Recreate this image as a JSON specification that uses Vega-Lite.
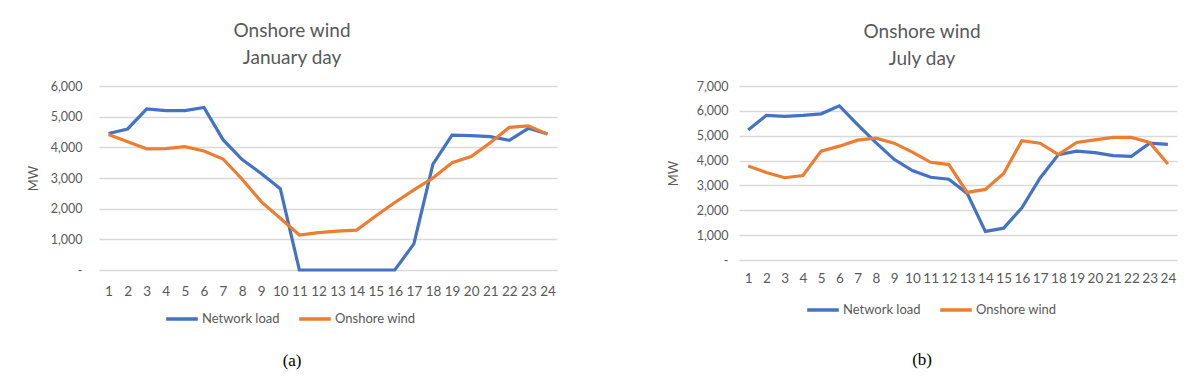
{
  "$schema": "https://vega.github.io/schema/vega-lite/v6.json",
  "background": "white",
  "padding": {"left": 27, "top": 22, "right": 5, "bottom": 5},
  "datasets": {
    "jan": [
      {"hour": 1, "series": "Network load", "MW": 4450},
      {"hour": 2, "series": "Network load", "MW": 4600},
      {"hour": 3, "series": "Network load", "MW": 5250},
      {"hour": 4, "series": "Network load", "MW": 5200},
      {"hour": 5, "series": "Network load", "MW": 5200},
      {"hour": 6, "series": "Network load", "MW": 5300},
      {"hour": 7, "series": "Network load", "MW": 4250},
      {"hour": 8, "series": "Network load", "MW": 3600},
      {"hour": 9, "series": "Network load", "MW": 3150},
      {"hour": 10, "series": "Network load", "MW": 2650},
      {"hour": 11, "series": "Network load", "MW": 0},
      {"hour": 12, "series": "Network load", "MW": 0},
      {"hour": 13, "series": "Network load", "MW": 0},
      {"hour": 14, "series": "Network load", "MW": 0},
      {"hour": 15, "series": "Network load", "MW": 0},
      {"hour": 16, "series": "Network load", "MW": 0},
      {"hour": 17, "series": "Network load", "MW": 850},
      {"hour": 18, "series": "Network load", "MW": 3450},
      {"hour": 19, "series": "Network load", "MW": 4400},
      {"hour": 20, "series": "Network load", "MW": 4380},
      {"hour": 21, "series": "Network load", "MW": 4350},
      {"hour": 22, "series": "Network load", "MW": 4230},
      {"hour": 23, "series": "Network load", "MW": 4620},
      {"hour": 24, "series": "Network load", "MW": 4440},
      {"hour": 1, "series": "Onshore wind", "MW": 4420},
      {"hour": 2, "series": "Onshore wind", "MW": 4180},
      {"hour": 3, "series": "Onshore wind", "MW": 3950},
      {"hour": 4, "series": "Onshore wind", "MW": 3955},
      {"hour": 5, "series": "Onshore wind", "MW": 4020},
      {"hour": 6, "series": "Onshore wind", "MW": 3880},
      {"hour": 7, "series": "Onshore wind", "MW": 3620},
      {"hour": 8, "series": "Onshore wind", "MW": 2960},
      {"hour": 9, "series": "Onshore wind", "MW": 2230},
      {"hour": 10, "series": "Onshore wind", "MW": 1690},
      {"hour": 11, "series": "Onshore wind", "MW": 1140},
      {"hour": 12, "series": "Onshore wind", "MW": 1220},
      {"hour": 13, "series": "Onshore wind", "MW": 1270},
      {"hour": 14, "series": "Onshore wind", "MW": 1300},
      {"hour": 15, "series": "Onshore wind", "MW": 1760},
      {"hour": 16, "series": "Onshore wind", "MW": 2200},
      {"hour": 17, "series": "Onshore wind", "MW": 2610},
      {"hour": 18, "series": "Onshore wind", "MW": 3000},
      {"hour": 19, "series": "Onshore wind", "MW": 3500},
      {"hour": 20, "series": "Onshore wind", "MW": 3700},
      {"hour": 21, "series": "Onshore wind", "MW": 4150},
      {"hour": 22, "series": "Onshore wind", "MW": 4650},
      {"hour": 23, "series": "Onshore wind", "MW": 4700},
      {"hour": 24, "series": "Onshore wind", "MW": 4430}
    ],
    "jul": [
      {"hour": 1, "series": "Network load", "MW": 5230},
      {"hour": 2, "series": "Network load", "MW": 5820},
      {"hour": 3, "series": "Network load", "MW": 5780},
      {"hour": 4, "series": "Network load", "MW": 5820},
      {"hour": 5, "series": "Network load", "MW": 5880},
      {"hour": 6, "series": "Network load", "MW": 6200},
      {"hour": 7, "series": "Network load", "MW": 5450},
      {"hour": 8, "series": "Network load", "MW": 4720},
      {"hour": 9, "series": "Network load", "MW": 4050},
      {"hour": 10, "series": "Network load", "MW": 3600},
      {"hour": 11, "series": "Network load", "MW": 3330},
      {"hour": 12, "series": "Network load", "MW": 3250},
      {"hour": 13, "series": "Network load", "MW": 2680},
      {"hour": 14, "series": "Network load", "MW": 1150},
      {"hour": 15, "series": "Network load", "MW": 1280},
      {"hour": 16, "series": "Network load", "MW": 2100},
      {"hour": 17, "series": "Network load", "MW": 3300},
      {"hour": 18, "series": "Network load", "MW": 4240},
      {"hour": 19, "series": "Network load", "MW": 4380},
      {"hour": 20, "series": "Network load", "MW": 4320},
      {"hour": 21, "series": "Network load", "MW": 4200},
      {"hour": 22, "series": "Network load", "MW": 4170},
      {"hour": 23, "series": "Network load", "MW": 4700},
      {"hour": 24, "series": "Network load", "MW": 4650},
      {"hour": 1, "series": "Onshore wind", "MW": 3780},
      {"hour": 2, "series": "Onshore wind", "MW": 3520},
      {"hour": 3, "series": "Onshore wind", "MW": 3310},
      {"hour": 4, "series": "Onshore wind", "MW": 3400},
      {"hour": 5, "series": "Onshore wind", "MW": 4380},
      {"hour": 6, "series": "Onshore wind", "MW": 4580},
      {"hour": 7, "series": "Onshore wind", "MW": 4820},
      {"hour": 8, "series": "Onshore wind", "MW": 4900},
      {"hour": 9, "series": "Onshore wind", "MW": 4700},
      {"hour": 10, "series": "Onshore wind", "MW": 4340},
      {"hour": 11, "series": "Onshore wind", "MW": 3930},
      {"hour": 12, "series": "Onshore wind", "MW": 3840},
      {"hour": 13, "series": "Onshore wind", "MW": 2720},
      {"hour": 14, "series": "Onshore wind", "MW": 2840},
      {"hour": 15, "series": "Onshore wind", "MW": 3480},
      {"hour": 16, "series": "Onshore wind", "MW": 4800},
      {"hour": 17, "series": "Onshore wind", "MW": 4700},
      {"hour": 18, "series": "Onshore wind", "MW": 4240},
      {"hour": 19, "series": "Onshore wind", "MW": 4730},
      {"hour": 20, "series": "Onshore wind", "MW": 4830},
      {"hour": 21, "series": "Onshore wind", "MW": 4930},
      {"hour": 22, "series": "Onshore wind", "MW": 4930},
      {"hour": 23, "series": "Onshore wind", "MW": 4730},
      {"hour": 24, "series": "Onshore wind", "MW": 3860}
    ]
  },
  "spacing": 110,
  "resolve": {"legend": {"color": "independent"}, "scale": {"color": "independent"}},
  "hconcat": [
    {
      "title": {"text": "(a)", "orient": "bottom", "offset": 27, "font": "Liberation Serif", "fontSize": 17, "fontWeight": "normal", "color": "#000000", "anchor": "middle"},
      "resolve": {"legend": {"color": "independent"}},
      "vconcat": [
        {
          "title": {"text": ["Onshore wind", "January day"], "frame": "bounds", "anchor": "middle", "offset": 12},
          "width": 458,
          "height": 184,
          "data": {"name": "jan"},
          "mark": {"type": "line", "strokeWidth": 3.2},
          "encoding": {
            "x": {"field": "hour", "type": "ordinal", "axis": {"title": null, "labelPadding": 14}},
            "y": {"field": "MW", "type": "quantitative", "scale": {"domain": [0, 6000]},
                  "axis": {"title": "MW", "values": [0, 1000, 2000, 3000, 4000, 5000, 6000], "labelPadding": 17, "titlePadding": 10,
                           "labelExpr": "datum.value == 0 ? '-\u00a0\u00a0\u00a0\u00a0\u00a0' : format(datum.value, ',')"}},
            "color": {"field": "series", "type": "nominal",
                      "scale": {"domain": ["Network load", "Onshore wind"], "range": ["#4472C4", "#ED7D31"]},
                      "legend": {"title": null, "orient": "none", "legendX": 65, "legendY": 215}}
          }
        }
      ]
    },
    {
      "title": {"text": "(b)", "orient": "bottom", "offset": 35, "font": "Liberation Serif", "fontSize": 17, "fontWeight": "normal", "color": "#000000", "anchor": "middle"},
      "resolve": {"legend": {"color": "independent"}},
      "vconcat": [
        {
          "title": {"text": ["Onshore wind", "July day"], "frame": "bounds", "anchor": "middle", "offset": 11},
          "width": 438,
          "height": 174,
          "data": {"name": "jul"},
          "mark": {"type": "line", "strokeWidth": 3.2},
          "encoding": {
            "x": {"field": "hour", "type": "ordinal", "axis": {"title": null, "labelPadding": 11}},
            "y": {"field": "MW", "type": "quantitative", "scale": {"domain": [0, 7000]},
                  "axis": {"title": "MW", "values": [0, 1000, 2000, 3000, 4000, 5000, 6000, 7000], "labelPadding": 11, "titlePadding": 16,
                           "labelExpr": "datum.value == 0 ? '-\u00a0\u00a0\u00a0\u00a0\u00a0' : format(datum.value, ',')"}},
            "color": {"field": "series", "type": "nominal",
                      "scale": {"domain": ["Network load", "Onshore wind"], "range": ["#4472C4", "#ED7D31"]},
                      "legend": {"title": null, "orient": "none", "legendX": 66, "legendY": 206}}
          }
        }
      ]
    }
  ],
  "config": {
    "font": "Lato",
    "view": {"stroke": null},
    "title": {"fontSize": 19, "fontWeight": "normal", "color": "#595959", "lineHeight": 27},
    "axis": {"labelFont": "Lato", "labelFontSize": 13.5, "labelColor": "#595959", "titleFont": "Lato", "titleFontSize": 13, "titleFontWeight": "normal", "titleColor": "#595959", "ticks": false, "domain": false},
    "axisX": {"grid": false, "labelAngle": 0},
    "axisY": {"grid": true, "gridColor": "#d9d9d9", "gridWidth": 1.3, "labelFontSize": 12.5},
    "legend": {"symbolType": "stroke", "symbolSize": 1000, "symbolStrokeWidth": 3.5, "labelFontSize": 13, "labelColor": "#595959", "labelFont": "Lato", "labelOffset": 2, "columnPadding": 12, "direction": "horizontal"}
  }
}
